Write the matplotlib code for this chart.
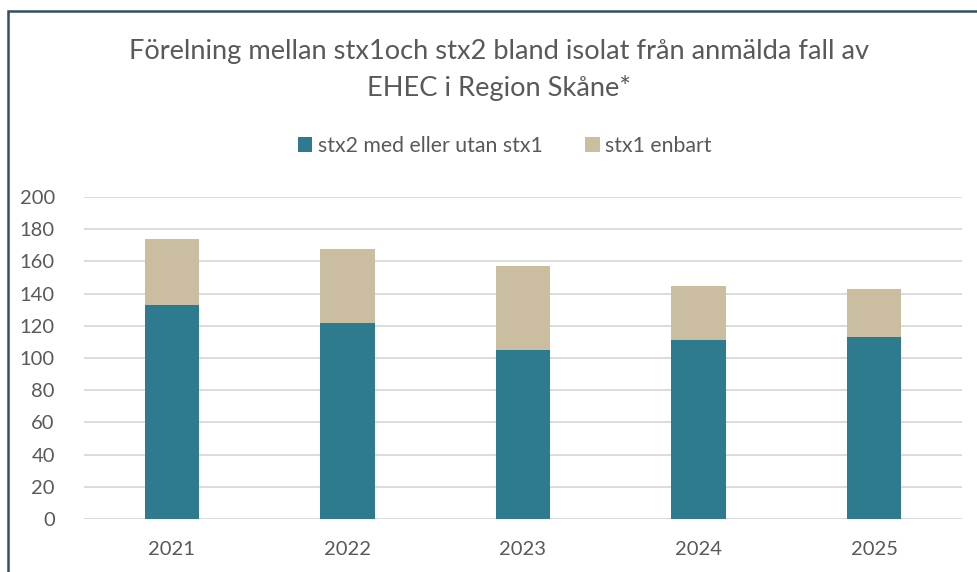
import matplotlib.pyplot as plt
from matplotlib.patches import Rectangle

years = ['2021', '2022', '2023', '2024', '2025']
stx2 = [133, 122, 105, 111, 113]
stx1_only = [41, 46, 52, 34, 30]

teal = '#2E7A8E'
tan = '#CBBDA0'
grey = '#595959'

plt.rcParams['font.family'] = ['Lato', 'DejaVu Sans']

fig = plt.figure(figsize=(9.78, 5.72), dpi=100)
W, H = 978, 572
ax = fig.add_axes([84 / W, 1 - 519 / H, (962 - 84) / W, (519 - 197) / H])

x = range(len(years))
ax.bar(x, stx2, width=0.31, color=teal, label='stx2 med eller utan stx1', zorder=3)
ax.bar(x, stx1_only, width=0.31, bottom=stx2, color=tan, label='stx1 enbart', zorder=3)

ax.set_xlim(-0.5, len(years) - 0.5)
ax.set_ylim(0, 200)
ax.set_yticks(range(0, 201, 20))
ax.set_xticks(list(x))
ax.set_xticklabels(years)
ax.grid(axis='y', color='#D9D9D9', linewidth=1.3, zorder=0)
for s in ax.spines.values():
    s.set_visible(False)
ax.tick_params(axis='both', length=0, labelsize=14.5, labelcolor=grey)
ax.tick_params(axis='y', pad=21)
ax.tick_params(axis='x', pad=16)

fig.text(499 / W, 1 - 52 / H, 'Förelning mellan stx1och stx2 bland isolat från anmälda fall av',
         ha='center', va='center', fontsize=19.6, color=grey)
fig.text(499 / W, 1 - 88 / H, 'EHEC i Region Skåne*', ha='center', va='center', fontsize=19.6, color=grey)

fig.legend(loc='center', bbox_to_anchor=(0.516, 1 - 146 / H), ncol=2, frameon=False,
           fontsize=15.3, labelcolor=grey, handlelength=0.7, handleheight=0.7,
           handletextpad=0.25, columnspacing=2.0)

# outer chart frame, cut off on the right and bottom
fig.patches.append(Rectangle((8 / W, -0.1), 1.2, 1.1 - 11 / H, transform=fig.transFigure,
                             fill=False, edgecolor='#2F5262', linewidth=1.8))

fig.savefig('out.png', dpi=100)
